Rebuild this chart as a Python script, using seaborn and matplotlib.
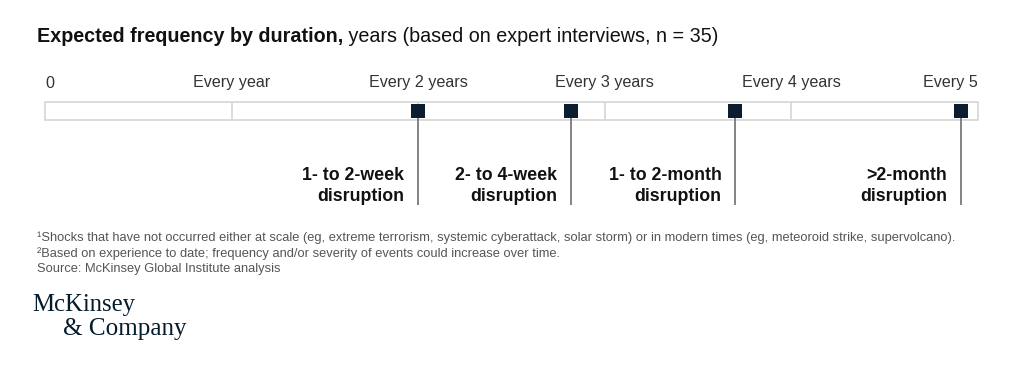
import matplotlib
matplotlib.use("Agg")
import matplotlib.pyplot as plt
import seaborn as sns
import pandas as pd

# ---- data ----
tick_values = [0, 1, 2, 3, 4, 5]
tick_labels = ["0", "Every year", "Every 2 years", "Every 3 years", "Every 4 years", "Every 5"]
disruptions = ["1- to 2-week\ndisruption", "2- to 4-week\ndisruption",
               "1- to 2-month\ndisruption", ">2-month\ndisruption"]
years = [2.0, 2.82, 3.70, 4.91]

title_bold = "Expected frequency by duration,"
title_rest = " years (based on expert interviews, n = 35)"
footnotes = [
    "¹Shocks that have not occurred either at scale (eg, extreme terrorism, systemic cyberattack, solar storm) or in modern times (eg, meteoroid strike, supervolcano).",
    "²Based on experience to date; frequency and/or severity of events could increase over time.",
    "Source: McKinsey Global Institute analysis",
]

sns.set_theme(style="white")
plt.rcParams["font.family"] = ["Liberation Sans", "DejaVu Sans"]

W, H = 1024, 379
fig = plt.figure(figsize=(W / 100, H / 100), dpi=100)
fig.patch.set_facecolor("white")

# axes: x from pixel 45 to 978, y pixels 60..215 mapped directly
y0, y1 = 60, 215
ax = fig.add_axes([45 / W, 1 - y1 / H, 933 / W, (y1 - y0) / H])

navy = "#0b1d2e"
bar_top, bar_bot = 102, 120

df = pd.DataFrame({"year": years, "y": [111] * len(years), "label": disruptions})
sns.scatterplot(data=df, x="year", y="y", marker="s", s=95, color=navy,
                edgecolor=navy, linewidth=0, zorder=3, ax=ax, legend=False)
ax.set_xlim(0, 5)
ax.set_ylim(y1, y0)
ax.axis("off")

# bar outline and dividers
ax.add_patch(plt.Rectangle((0, bar_top), 5, bar_bot - bar_top, facecolor="white",
                           edgecolor="#d6d6d6", lw=1.2, clip_on=False, zorder=1))
ax.vlines(tick_values[1:-1], bar_top, bar_bot, color="#d6d6d6", lw=1.2, zorder=1)

# tick labels
for v, lab in zip(tick_values, tick_labels):
    ha = "left" if v == 0 else ("right" if v == 5 else "center")
    ax.text(v, 83, lab, ha=ha, va="center", fontsize=11.6, color="#333333", clip_on=False)

# stems
ax.vlines(years, 111, 205, color="#7a7a7a", lw=1.3, zorder=2)

px_per_year = 933 / 5
for v, lab in zip(years, disruptions):
    ax.text(v - 14 / px_per_year, 186, lab, ha="right", va="center", fontsize=12.8,
            fontweight="bold", color="#111111", linespacing=1.3)

# title
t = fig.text(37 / W, 1 - 37 / H, title_bold, fontsize=14.2, fontweight="bold",
             color="#111111", va="center", ha="left")
fig.canvas.draw()
bb = t.get_window_extent()
fig.text(bb.x1 / W, 1 - 37 / H, title_rest, fontsize=14.2, color="#111111",
         va="center", ha="left")

# footnotes
for i, fn in enumerate(footnotes):
    fig.text(37 / W, 1 - (238 + i * 15.5) / H, fn, fontsize=9.3, color="#555555",
             va="center", ha="left")

# logo
fig.text(32 / W, 1 - 305 / H, "McKinsey", fontsize=17.8, color="#051c2c",
         family="Liberation Serif", va="center", ha="left")
fig.text(63 / W, 1 - 329 / H, "& Company", fontsize=18.1, color="#051c2c",
         family="Liberation Serif", va="center", ha="left")

fig.savefig("out.png", dpi=100, facecolor="white")
